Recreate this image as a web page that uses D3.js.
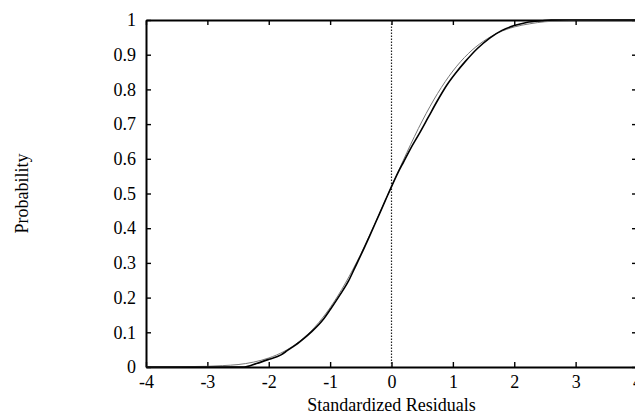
<!DOCTYPE html>
<html>
<head>
<meta charset="utf-8">
<script src="https://cdn.jsdelivr.net/npm/d3@7"></script>
<style>
  body { margin: 0; background: #fff; }
  svg text { font-family: "Liberation Serif", "DejaVu Serif", serif; }
</style>
</head>
<body>
<div id="chart"></div>
<script>
// tick values
var xTicks = [-4, -3, -2, -1, 0, 1, 2, 3, 4];
var yTicks = [0, 0.1, 0.2, 0.3, 0.4, 0.5, 0.6, 0.7, 0.8, 0.9, 1];

// fitted normal curve
var fittedX = [-4, -3, -2.75, -2.5, -2.25, -2, -1.75, -1.5, -1.25, -1, -0.75, -0.5, -0.25,
               0, 0.25, 0.5, 0.75, 1, 1.25, 1.5, 1.75, 2, 2.25, 2.5, 2.75, 3, 4];
var fittedP = [0, 0.002, 0.004, 0.007, 0.014, 0.026, 0.045, 0.074, 0.115, 0.171, 0.242, 0.326, 0.421,
               0.52, 0.618, 0.709, 0.788, 0.853, 0.903, 0.939, 0.964, 0.98, 0.989, 0.995, 0.997, 0.999, 1];

var observedX = [-4, -2.4, -2.2, -2.0, -1.8, -1.7, -1.5, -1.3, -1.1, -1.0, -0.85, -0.7, -0.6, -0.5,
                 -0.35, -0.2, -0.1, 0, 0.1, 0.2, 0.3, 0.45, 0.6, 0.75, 0.9, 1.05, 1.2, 1.4, 1.6,
                 1.8, 2.0, 2.2, 2.45, 2.6, 4];
var observedP = [0, 0, 0.01, 0.022, 0.035, 0.047, 0.072, 0.102, 0.14, 0.165, 0.205, 0.248, 0.285, 0.322,
                 0.38, 0.44, 0.48, 0.52, 0.558, 0.592, 0.626, 0.672, 0.72, 0.768, 0.812, 0.848, 0.88, 0.918, 0.948,
                 0.97, 0.984, 0.993, 0.998, 1, 1];

var margin = { top: 20, right: -2, bottom: 48, left: 146 },
    width = 635 - margin.left - margin.right,
    height = 415 - margin.top - margin.bottom;

var svg = d3.select("#chart").append("svg")
    .attr("width", 635)
    .attr("height", 415);

var g = svg.append("g")
    .attr("transform", "translate(" + margin.left + "," + margin.top + ")");

var x = d3.scaleLinear().domain([-4, 4]).range([0, width]);
var y = d3.scaleLinear().domain([0, 1]).range([height, 0]);

// plain hyphen minus like the original print
function fmt(d) {
    if (d === 0 || d === 1) return String(d);
    return Number.isInteger(d) ? String(d) : d.toFixed(1);
}

// axes with inward ticks on all four sides
g.append("g")
    .attr("class", "axis")
    .attr("transform", "translate(0," + height + ")")
    .call(d3.axisBottom(x).tickValues(xTicks).tickSizeInner(-5).tickSizeOuter(0).tickPadding(8)
        .tickFormat(fmt));

g.append("g")
    .attr("class", "axis")
    .call(d3.axisTop(x).tickValues(xTicks).tickSizeInner(-5).tickSizeOuter(0).tickFormat(""));

g.append("g")
    .attr("class", "axis")
    .call(d3.axisLeft(y).tickValues(yTicks).tickSizeInner(-5).tickSizeOuter(0).tickPadding(10)
        .tickFormat(fmt));

g.append("g")
    .attr("class", "axis")
    .attr("transform", "translate(" + width + ",0)")
    .call(d3.axisRight(y).tickValues(yTicks).tickSizeInner(-5).tickSizeOuter(0).tickFormat(""));

g.selectAll(".axis path").attr("stroke", "#000").attr("stroke-width", 2);
g.selectAll(".axis line").attr("stroke", "#000").attr("stroke-width", 1.4);
g.selectAll(".axis text").attr("fill", "#000").style("font-size", "18px")
    .style("font-family", "'Liberation Serif', serif");

// dotted zero line
g.append("line")
    .attr("x1", x(0)).attr("x2", x(0))
    .attr("y1", y(0)).attr("y2", y(1))
    .attr("stroke", "#222")
    .attr("stroke-width", 1.2)
    .attr("stroke-dasharray", "1.5,1.5");

var line = d3.line()
    .x(function (d) { return x(d[0]); })
    .y(function (d) { return y(d[1]); })
    .curve(d3.curveMonotoneX);

var fitted = fittedX.map(function (v, i) { return [v, fittedP[i]]; });
var observed = observedX.map(function (v, i) { return [v, observedP[i]]; });

g.append("path")
    .datum(fitted)
    .attr("fill", "none")
    .attr("stroke", "#777")
    .attr("stroke-width", 1)
    .attr("d", line);

g.append("path")
    .datum(observed)
    .attr("fill", "none")
    .attr("stroke", "#000")
    .attr("stroke-width", 1.6)
    .attr("d", line);

// axis titles
svg.append("text")
    .attr("x", margin.left + x(0))
    .attr("y", 411)
    .attr("text-anchor", "middle")
    .style("font-size", "18px")
    .text("Standardized Residuals");

svg.append("text")
    .attr("transform", "translate(28," + (margin.top + height / 2) + ") rotate(-90)")
    .attr("text-anchor", "middle")
    .style("font-size", "18px")
    .text("Probability");
</script>
</body>
</html>
